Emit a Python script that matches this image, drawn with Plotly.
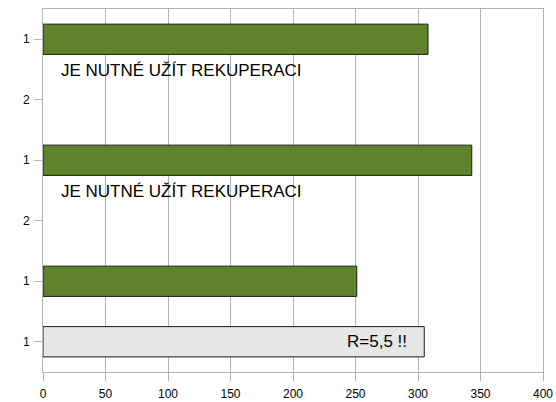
import plotly.graph_objects as go

row_labels = ["1", "2", "1", "2", "1", "1"]
green_rows = [0, 2, 4]
green_values = [308, 343, 251]
gray_rows = [5]
gray_values = [305]
note_text = "JE NUTNÉ UŽÍT REKUPERACI"
note_rows = [0, 2]
gray_label = "R=5,5 !!"
x_ticks = [0, 50, 100, 150, 200, 250, 300, 350, 400]

GRID = "#b3b3b3"
FONT = "Liberation Sans, Arial, sans-serif"

fig = go.Figure()
fig.add_trace(go.Bar(
    x=green_values, y=green_rows, orientation="h", width=0.5,
    marker=dict(color="#5e832a", line=dict(color="#1a1a1a", width=1)),
    showlegend=False, hoverinfo="x",
))
fig.add_trace(go.Bar(
    x=gray_values, y=gray_rows, orientation="h", width=0.5,
    marker=dict(color="#e6e6e6", line=dict(color="#1a1a1a", width=1)),
    showlegend=False, hoverinfo="x",
))

for r in note_rows:
    fig.add_annotation(x=12.5, y=r + 0.52, xref="x", yref="y", text=note_text,
                       showarrow=False, xanchor="left", yanchor="middle",
                       font=dict(family=FONT, size=17, color="#000000"))
for r, v in zip(gray_rows, gray_values):
    fig.add_annotation(x=v - 12, y=r, xref="x", yref="y", text=gray_label,
                       showarrow=False, xanchor="right", yanchor="middle",
                       font=dict(family=FONT, size=17, color="#000000"))

fig.update_layout(
    width=556, height=402,
    margin=dict(l=43, r=13, t=9, b=30, autoexpand=False),
    paper_bgcolor="white", plot_bgcolor="white",
    barmode="overlay",
    font=dict(family=FONT, size=12, color="#000000"),
    xaxis=dict(range=[0, 400], tickvals=x_ticks, showgrid=True, gridcolor=GRID,
               gridwidth=1, showline=True, linecolor=GRID, linewidth=1, mirror=True,
               ticks="outside", ticklen=8, tickcolor=GRID, zeroline=False,
               automargin=False, ticklabelstandoff=3,
               tickfont=dict(family=FONT, size=12)),
    yaxis=dict(range=[5.5, -0.5], tickvals=list(range(len(row_labels))),
               ticktext=row_labels, showgrid=False, showline=True, linecolor=GRID,
               linewidth=1, mirror=True, ticks="outside", ticklen=8, tickcolor=GRID,
               zeroline=False, automargin=False, ticklabelstandoff=2,
               tickfont=dict(family=FONT, size=12)),
)

fig.write_html("out.html", config={"displayModeBar": False},
               post_script="document.body.style.margin='0px';")
